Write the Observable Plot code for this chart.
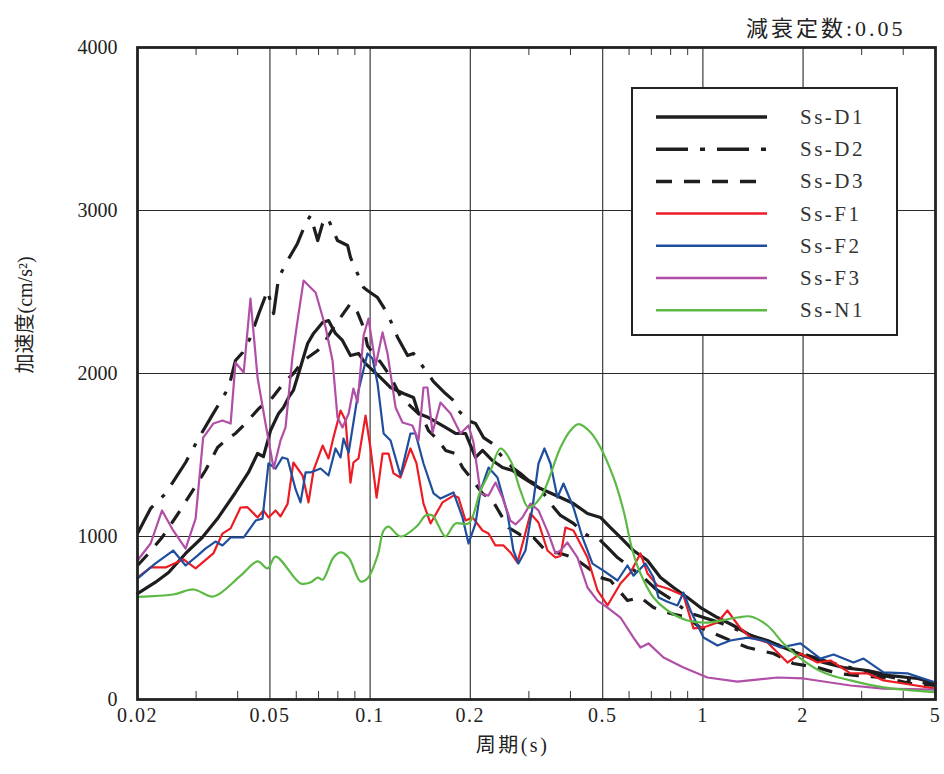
<!DOCTYPE html>
<html><head><meta charset="utf-8">
<script src="https://cdn.jsdelivr.net/npm/d3@7"></script>
<script src="https://cdn.jsdelivr.net/npm/@observablehq/plot@0.6"></script>
<style>body{margin:0;background:#fff}</style>
</head><body><div id="chart"></div>
<script>
const names = ["Ss-D1","Ss-D2","Ss-D3","Ss-F1","Ss-F2","Ss-F3","Ss-N1"];
const colors = ["#1e1e1e","#1e1e1e","#1e1e1e","#ec1c24","#1f4e9e","#b14ea6","#5cb946"];
const dashes = [null,"32,12,4,12","15,12",null,null,null,null];
const widths = [3.2,3.2,3.2,2.2,2.2,2.2,2.2];

const periodD1 = [0.0200,0.0226,0.0248,0.0279,0.0313,0.0350,0.0394,0.0431,0.0459,0.0478,0.0502,0.0531,0.0549,0.0569,0.0588,0.0618,0.0649,0.0676,0.0720,0.0750,0.0787,0.0826,0.0873,0.0923,0.0969,0.1075,0.1152,0.1260,0.1350,0.1398,0.1498,0.1685,0.1805,0.1935,0.2074,0.2177,0.2332,0.2499,0.2678,0.2869,0.3075,0.3250,0.3733,0.4084,0.4500,0.4923,0.5276,0.5654,0.6186,0.6815,0.7457,0.8159,0.8988,0.9834,1.106,1.235,1.390,1.563,1.747,2.005,2.303,2.645,3.124,3.662,4.415,5.0];
const accelD1 = [650,718,779,896,994,1117,1270,1393,1509,1490,1650,1755,1791,1853,1896,2040,2184,2246,2313,2325,2246,2203,2110,2123,2061,1975,1914,1877,1853,1755,1730,1669,1632,1632,1485,1528,1466,1423,1405,1362,1325,1294,1239,1202,1141,1117,1055,994,914,853,748,687,626,564,503,454,393,362,319,270,227,196,178,147,129,100];

const periodD2 = [0.0200,0.0219,0.0243,0.0279,0.0305,0.0338,0.0376,0.0394,0.0414,0.0437,0.0463,0.0492,0.0513,0.0531,0.0565,0.0605,0.0640,0.0662,0.0696,0.0720,0.0745,0.0798,0.0856,0.0873,0.0956,0.0982,0.1053,0.1128,0.1210,0.1296,0.1350,0.1447,0.1551,0.1685,0.1781,0.1843,0.1962,0.2074,0.2192,0.2332,0.2431,0.2678,0.2830,0.2992,0.3206,0.3483,0.3733,0.4084,0.4500,0.4822,0.5168,0.5538,0.6059,0.6629,0.7303,0.8159,0.8988,0.9632,1.129,1.297,1.489,1.711,1.964,2.256,2.591,2.976,3.417,3.925,5.0];
const accelD2 = [1018,1172,1264,1454,1601,1755,1914,2080,2129,2221,2368,2509,2368,2589,2693,2798,2920,2969,2816,2920,2957,2816,2785,2712,2527,2509,2466,2368,2221,2110,2123,2037,1950,1877,1834,1773,1712,1693,1607,1570,1515,1423,1387,1344,1313,1202,1129,1080,1006,994,933,871,810,748,669,607,534,515,470,420,370,330,285,245,210,180,150,125,90];

const periodD3 = [0.0200,0.0216,0.0237,0.0265,0.0293,0.0320,0.0348,0.0373,0.0394,0.0422,0.0463,0.0509,0.0549,0.0588,0.0631,0.0696,0.0735,0.0776,0.0815,0.0873,0.0917,0.0956,0.0982,0.1024,0.1075,0.1152,0.1234,0.1322,0.1437,0.1498,0.1605,0.1685,0.1805,0.1895,0.2003,0.2177,0.2332,0.2499,0.2606,0.2830,0.3097,0.3364,0.3733,0.4084,0.4500,0.4923,0.5276,0.5934,0.6493,0.7104,0.7991,0.8988,0.9834,1.153,1.362,1.630,1.871,2.209,2.538,2.915,3.489,4.206,5.0];
const accelD3 = [822,896,994,1141,1282,1405,1546,1601,1632,1693,1785,1853,1939,2000,2080,2141,2203,2282,2344,2429,2374,2282,2170,2120,2070,1980,1860,1800,1730,1650,1589,1528,1509,1423,1362,1264,1221,1117,1055,1010,994,914,896,871,810,748,730,607,626,564,528,503,440,380,319,282,221,196,160,147,135,98,86];

const periodF1 = [0.0200,0.0219,0.0243,0.0275,0.0299,0.0338,0.0360,0.0381,0.0408,0.0428,0.0459,0.0478,0.0495,0.0520,0.0538,0.0565,0.0588,0.0627,0.0653,0.0676,0.0720,0.0750,0.0776,0.0815,0.0844,0.0873,0.0891,0.0923,0.0969,0.1003,0.1046,0.1090,0.1136,0.1176,0.1234,0.1322,0.1378,0.1447,0.1519,0.1650,0.1781,0.1843,0.1935,0.2031,0.2177,0.2269,0.2381,0.2517,0.2641,0.2772,0.2889,0.3033,0.3206,0.3411,0.3605,0.3733,0.3864,0.4084,0.4500,0.4822,0.5168,0.5654,0.6059,0.6493,0.6815,0.7303,0.7827,0.8743,0.9370,1.004,1.106,1.185,1.297,1.390,1.563,1.796,1.964,2.209,2.418,2.777,3.124,3.489,4.007,5.0];
const accelF1 = [748,810,810,860,804,896,1018,1050,1178,1180,1117,1160,1117,1160,1123,1200,1454,1374,1209,1405,1558,1479,1607,1773,1712,1331,1454,1479,1742,1540,1239,1509,1509,1387,1362,1540,1450,1202,1080,1209,1251,1239,1098,1117,1037,1018,945,945,902,840,975,1141,1086,914,871,880,1055,1037,871,669,577,712,779,896,773,699,681,638,436,442,472,546,436,380,350,227,282,227,239,160,160,117,98,67];

const periodF2 = [0.0200,0.0226,0.0256,0.0279,0.0303,0.0320,0.0343,0.0360,0.0381,0.0417,0.0453,0.0475,0.0495,0.0520,0.0545,0.0565,0.0597,0.0618,0.0640,0.0662,0.0710,0.0750,0.0787,0.0815,0.0832,0.0862,0.0923,0.0982,0.1017,0.1053,0.1098,0.1152,0.1234,0.1322,0.1369,0.1447,0.1551,0.1627,0.1781,0.1895,0.1976,0.2074,0.2147,0.2269,0.2414,0.2587,0.2696,0.2791,0.2930,0.3075,0.3206,0.3341,0.3483,0.3655,0.3811,0.4084,0.4347,0.4658,0.5026,0.5538,0.5934,0.6186,0.6722,0.7104,0.7354,0.7827,0.8388,0.8743,0.9177,1.004,1.106,1.210,1.362,1.520,1.711,1.964,2.256,2.469,2.835,3.039,3.489,4.119,5.0];
const accelF2 = [742,834,914,822,883,926,969,945,994,994,1098,1110,1448,1417,1485,1475,1290,1209,1393,1393,1417,1374,1540,1485,1601,1515,1896,2123,2092,1939,1632,1589,1374,1632,1632,1448,1264,1233,1270,1117,957,1080,1282,1423,1362,1141,914,834,914,1178,1448,1540,1448,1239,1325,1178,994,834,791,730,822,760,834,748,626,600,577,656,546,380,331,362,380,362,319,344,251,276,227,251,166,160,104];

const periodF3 = [0.0200,0.0219,0.0237,0.0256,0.0279,0.0299,0.0315,0.0338,0.0360,0.0381,0.0394,0.0417,0.0437,0.0459,0.0485,0.0513,0.0538,0.0557,0.0584,0.0601,0.0631,0.0662,0.0686,0.0735,0.0771,0.0798,0.0826,0.0862,0.0891,0.0917,0.0956,0.0989,0.1039,0.1090,0.1128,0.1193,0.1251,0.1340,0.1398,0.1447,0.1487,0.1540,0.1627,0.1744,0.1869,0.1976,0.2045,0.2147,0.2269,0.2381,0.2499,0.2641,0.2734,0.2869,0.3033,0.3206,0.3435,0.3605,0.3733,0.3918,0.4199,0.4500,0.4822,0.5168,0.5654,0.6186,0.6493,0.6863,0.7614,0.8743,1.032,1.270,1.675,2.005,2.777,3.489,5.0];
const accelF3 = [853,957,1160,1037,926,1110,1607,1693,1712,1693,2067,2006,2460,1975,1693,1417,1589,1669,2098,2282,2570,2528,2497,2282,2080,1730,1669,1755,1908,1822,2233,2337,2049,2252,2123,1791,1699,1681,1589,1914,1914,1638,1822,1755,1632,1681,1577,1264,1251,1331,1239,1098,1074,1117,1202,1160,1018,896,914,963,871,687,607,564,503,380,319,344,258,196,135,110,135,129,86,67,61];

const periodN1 = [0.0200,0.0256,0.0295,0.0338,0.0408,0.0459,0.0492,0.0520,0.0618,0.0662,0.0696,0.0720,0.0776,0.0815,0.0862,0.0936,0.0982,0.1053,0.1098,0.1136,0.1234,0.1388,0.1467,0.1540,0.1605,0.1685,0.1805,0.1976,0.2147,0.2300,0.2465,0.2641,0.2830,0.2992,0.3250,0.3733,0.4000,0.4228,0.4594,0.4923,0.5387,0.5773,0.6143,0.6493,0.7104,0.7827,0.8988,1.032,1.270,1.390,1.563,1.747,2.005,2.303,2.777,3.489,5.0];
const accelN1 = [630,644,675,632,760,847,804,877,712,718,748,735,871,902,871,724,742,883,1037,1061,1000,1067,1129,1129,1067,1000,1080,1080,1282,1405,1540,1466,1282,1178,1239,1546,1650,1690,1640,1546,1362,1160,914,773,626,546,485,472,503,509,454,344,239,166,117,74,45];

const xTicks = [0.02,0.05,0.1,0.2,0.5,1,2,5];
const xTickLabels = ["0.02","0.05","0.1","0.2","0.5","1","2","5"];
const xGrid = [0.05,0.1,0.2,0.5,1,2];
const minorTicks = [0.03,0.04,0.06,0.07,0.08,0.09,0.3,0.4,0.6,0.7,0.8,0.9,3,4];
const yTicks = [0,1000,2000,3000,4000];
const yGrid = [1000,2000,3000];
const dampingLabel = "減衰定数:0.05";
const xLabel = "周期(s)";
const yLabel = "加速度(cm/s²)";

const periods = [periodD1,periodD2,periodD3,periodF1,periodF2,periodF3,periodN1];
const accels = [accelD1,accelD2,accelD3,accelF1,accelF2,accelF3,accelN1];
const seriesData = names.map((n,k) => periods[k].map((t,i) => ({series:n, T:t, A:accels[k][i]})));
const xTickData = xTicks.map((t,i) => ({T:t, label:xTickLabels[i]}));

const lineMarks = seriesData.map((data,k) => Plot.line(data, {
  x:"T", y:"A",
  stroke: colors[k], strokeWidth: widths[k],
  strokeDasharray: dashes[k] || undefined,
  strokeLinecap: dashes[k] ? "butt" : "round",
  strokeLinejoin: "round",
  curve: names[k] === "Ss-N1" ? "catmull-rom" : "linear"
}));

const chart = Plot.plot({
  width: 944, height: 774,
  marginLeft: 137, marginRight: 9, marginTop: 47, marginBottom: 75,
  style: {fontFamily: "'Liberation Serif','Noto Sans CJK JP',serif", fontSize: "20px", color: "#222", background: "#fff"},
  x: {type: "log", domain: [0.02, 5], axis: null},
  y: {domain: [0, 4000], axis: null},
  marks: [
    Plot.gridX(xGrid, {stroke: "#2a2a2a", strokeOpacity: 1, strokeWidth: 1.1}),
    Plot.gridY(yGrid, {stroke: "#2a2a2a", strokeOpacity: 1, strokeWidth: 1.1}),
    Plot.tickX(minorTicks, {x: d => d, insetTop: 644, stroke: "#333", strokeWidth: 1}),
    Plot.tickX(minorTicks, {x: d => d, insetBottom: 644, stroke: "#333", strokeWidth: 1}),
    Plot.text(xTickData, {x: "T", text: "label", frameAnchor: "bottom", dy: 22, fontSize: 20, fill: "#222"}),
    Plot.axisY(yTicks, {anchor: "left", tickSize: 0, tickPadding: 20, tickFormat: d => String(d), label: null}),
    ...lineMarks,
    Plot.frame({stroke: "#222", strokeWidth: 2.8}),
    Plot.text([dampingLabel], {frameAnchor: "top-right", dx: -30, dy: -27, textAnchor: "end", fontSize: 22, text: d => d, fill: "#222"}),
    Plot.text([xLabel], {frameAnchor: "bottom", dx: -24, dy: 52, fontSize: 20, text: d => d, fill: "#222"}),
    Plot.text([yLabel], {frameAnchor: "left", dx: -112, rotate: -90, fontSize: 20, text: d => d, fill: "#222"})
  ]
});
document.getElementById("chart").appendChild(chart);

// letter spacing to match the wider Mincho-style text of the original
const allText = d3.select(chart).selectAll("text");
allText.filter(function(){ return this.textContent === dampingLabel; }).attr("letter-spacing", 3);
allText.filter(function(){ return this.textContent === xLabel; }).attr("letter-spacing", 2.5);
allText.filter(function(){ return xTickLabels.includes(this.textContent); }).attr("letter-spacing", 1.5);

// legend
const svg = d3.select(chart);
const lg = svg.append("g");
const box = {x: 632, y: 88, w: 265, h: 247};
lg.append("rect").attr("x", box.x).attr("y", box.y).attr("width", box.w).attr("height", box.h)
  .attr("fill", "#fff").attr("stroke", "#222").attr("stroke-width", 2);
names.forEach((n,k) => {
  const yy = 117 + k * 32.2;
  lg.append("line").attr("x1", 656).attr("x2", 767).attr("y1", yy).attr("y2", yy)
    .attr("stroke", colors[k]).attr("stroke-width", k < 3 ? 3.5 : 2.5)
    .attr("stroke-dasharray", k === 1 ? "32,12,5,12" : k === 2 ? "16,12" : null);
  lg.append("text").attr("x", 800).attr("y", yy + 7).text(n)
    .attr("text-anchor", "start")
    .attr("font-size", 21).attr("letter-spacing", 2.5).attr("fill", "#333")
    .attr("font-family", "'Liberation Serif',serif");
});
</script>
</body></html>
